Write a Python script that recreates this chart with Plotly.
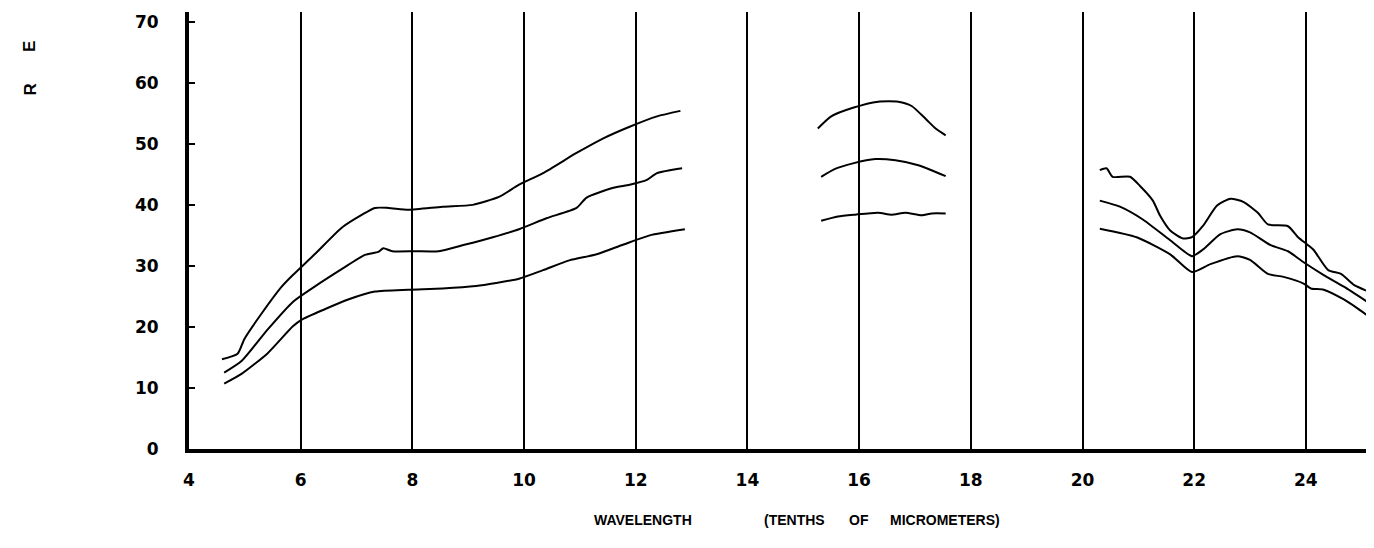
import plotly.graph_objects as go

# left segment
wl_a = [4.59, 4.87, 4.99, 5.30, 5.66, 5.86, 6.25, 6.74, 7.10, 7.33, 7.57, 7.93, 8.54, 9.08, 9.55, 9.91, 10.34, 10.94, 11.42, 11.89, 12.38, 12.80]
top_a = [14.7, 15.6, 18.0, 22.2, 26.6, 28.5, 31.9, 36.3, 38.4, 39.5, 39.5, 39.2, 39.7, 40.0, 41.3, 43.3, 45.2, 48.5, 50.9, 52.8, 54.5, 55.4]

wl_b = [4.63, 4.94, 5.41, 5.86, 6.25, 6.74, 7.15, 7.39, 7.48, 7.64, 8.05, 8.47, 8.95, 9.44, 9.91, 10.40, 10.94, 11.12, 11.60, 11.89, 12.20, 12.38, 12.83]
mid_b = [12.5, 14.4, 19.6, 24.1, 26.6, 29.5, 31.8, 32.3, 32.9, 32.4, 32.4, 32.4, 33.5, 34.7, 36.0, 37.8, 39.5, 41.2, 42.8, 43.3, 44.1, 45.2, 46.0]

wl_c = [4.63, 4.94, 5.41, 5.86, 6.02, 6.43, 6.85, 7.33, 7.93, 8.54, 9.14, 9.50, 9.91, 10.34, 10.81, 11.30, 11.78, 12.25, 12.88]
low_c = [10.7, 12.3, 15.7, 20.1, 21.2, 22.9, 24.5, 25.8, 26.1, 26.3, 26.7, 27.2, 27.9, 29.3, 30.9, 31.9, 33.5, 35.0, 36.0]

# middle segment
wl_d = [15.26, 15.50, 15.89, 16.34, 16.70, 16.94, 17.19, 17.37, 17.55]
top_d = [52.5, 54.5, 55.9, 56.9, 56.9, 56.2, 54.1, 52.5, 51.4]

wl_e = [15.32, 15.57, 15.89, 16.29, 16.65, 17.06, 17.55]
mid_e = [44.6, 45.9, 46.8, 47.5, 47.3, 46.5, 44.7]

wl_f = [15.32, 15.62, 15.93, 16.34, 16.58, 16.83, 17.12, 17.30, 17.55]
low_f = [37.4, 38.1, 38.4, 38.7, 38.4, 38.7, 38.3, 38.6, 38.6]

# right segment
wl_g = [20.31, 20.43, 20.54, 20.85, 21.03, 21.26, 21.39, 21.57, 21.80, 21.96, 22.16, 22.41, 22.65, 22.88, 23.14, 23.32, 23.68, 23.86, 24.04, 24.14, 24.40, 24.63, 24.86, 25.12]
top_g = [45.7, 46.0, 44.6, 44.6, 43.1, 40.7, 38.2, 35.8, 34.5, 34.7, 36.6, 39.9, 41.0, 40.5, 38.7, 36.8, 36.5, 34.7, 33.4, 32.6, 29.3, 28.7, 26.9, 25.8]

wl_h = [20.31, 20.67, 21.08, 21.57, 21.96, 22.16, 22.47, 22.77, 23.00, 23.37, 23.68, 23.96, 24.32, 24.68, 25.12]
mid_h = [40.7, 39.7, 37.6, 34.2, 31.6, 32.7, 35.2, 36.0, 35.5, 33.4, 32.4, 30.6, 28.5, 26.6, 24.0]

wl_i = [20.31, 20.97, 21.57, 21.96, 22.29, 22.77, 23.00, 23.32, 23.60, 23.96, 24.09, 24.32, 24.68, 24.93, 25.14]
low_i = [36.1, 34.7, 31.9, 29.0, 30.3, 31.6, 31.0, 28.7, 28.2, 27.1, 26.3, 26.1, 24.5, 23.0, 21.6]

x_ticks = [4, 6, 8, 10, 12, 14, 16, 18, 20, 22, 24]
y_ticks = [0, 10, 20, 30, 40, 50, 60, 70]

W, H = 1374, 548
# page body adds 8px, so everything sits 8px up/left of the target
L, R, T, B = 181, 8, 4, 107

fig = go.Figure()
for xs, ys in [(wl_a, top_a), (wl_b, mid_b), (wl_c, low_c),
               (wl_d, top_d), (wl_e, mid_e), (wl_f, low_f),
               (wl_g, top_g), (wl_h, mid_h), (wl_i, low_i)]:
    fig.add_trace(go.Scatter(x=xs, y=ys, mode='lines',
                             line=dict(color='black', width=2, shape='spline', smoothing=0.6),
                             showlegend=False, hoverinfo='skip'))

tick_font = dict(family='DejaVu Sans', size=17, color='black', weight='bold')

fig.update_layout(
    width=W, height=H,
    margin=dict(l=L, r=R, t=T, b=B),
    paper_bgcolor='white', plot_bgcolor='white',
    showlegend=False,
    xaxis=dict(range=[4, 25.22], tickvals=x_ticks, showgrid=True, gridcolor='black', gridwidth=2,
               zeroline=False, showline=True, linecolor='black', linewidth=4,
               ticks='', ticklabelstandoff=13, tickfont=tick_font),
    yaxis=dict(range=[0, 71.6], tickvals=y_ticks, showgrid=False, zeroline=False,
               showline=True, linecolor='black', linewidth=4,
               ticks='inside', ticklen=6, tickwidth=2, tickcolor='black',
               ticklabelstandoff=23, tickfont=tick_font),
)


def paper(xp, yp):
    return (xp - L) / (W - L - R), 1 - (yp - T) / (H - T - B)


title_font = dict(family='Liberation Sans', size=14, color='black', weight='bold')
for word, xp in [('WAVELENGTH', 635), ('(TENTHS', 787), ('OF', 851), ('MICROMETERS)', 937)]:
    ax, ay = paper(xp, 522)
    fig.add_annotation(text=word, x=ax, y=ay, xref='paper', yref='paper', showarrow=False, font=title_font)

# what is left of the vertical axis title
for letter, yp in [('E', 31), ('R', 74)]:
    ax, ay = paper(10, yp)
    fig.add_annotation(text=letter, x=ax, y=ay, xref='paper', yref='paper', showarrow=False,
                       textangle=-90, font=dict(family='Liberation Sans', size=17, color='black', weight='bold'))

fig.write_html("out.html")
